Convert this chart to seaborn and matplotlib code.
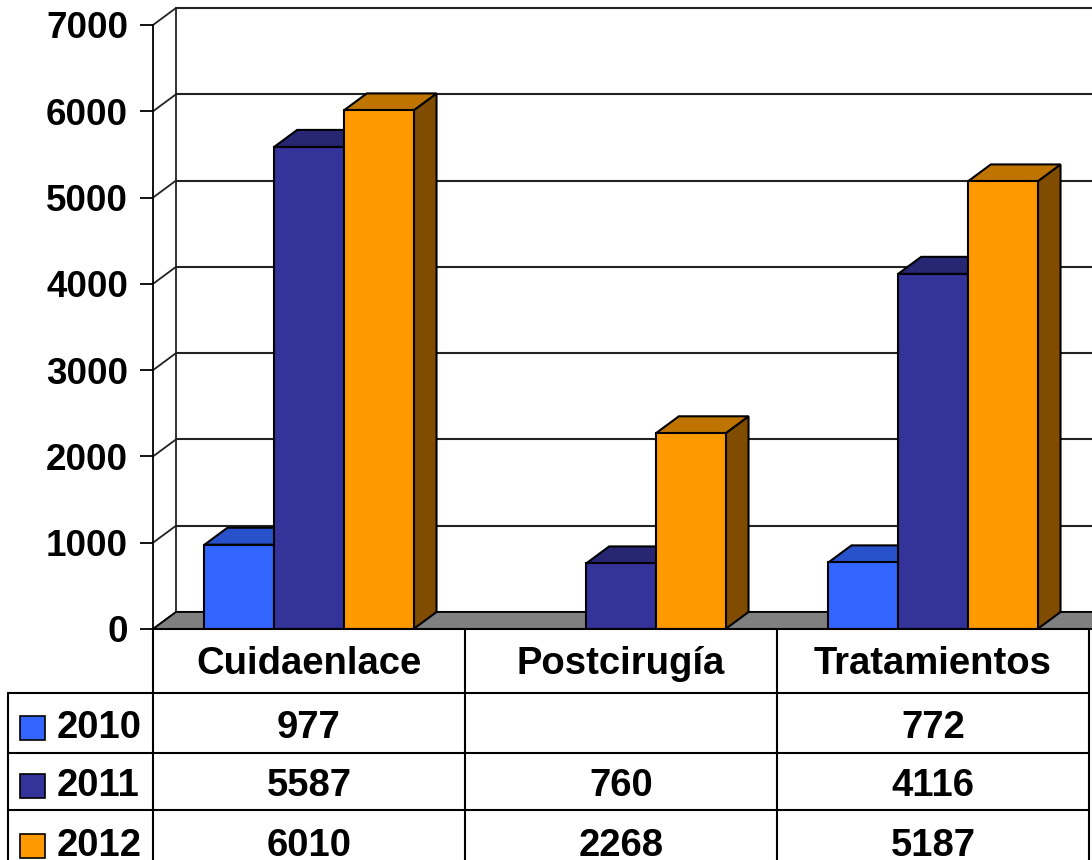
import matplotlib
matplotlib.use("Agg")
import matplotlib.pyplot as plt
import matplotlib.colors as mcolors
from matplotlib.patches import Polygon, Rectangle
import seaborn as sns
import pandas as pd
import numpy as np

# ---------------- data ----------------
categories = ["Cuidaenlace", "Postcirugía", "Tratamientos"]
years = ["2010", "2011", "2012"]
v2010 = [977, np.nan, 772]
v2011 = [5587, 760, 4116]
v2012 = [6010, 2268, 5187]
yticks = [0, 1000, 2000, 3000, 4000, 5000, 6000, 7000]

# ---------------- style ----------------
front_colors = ["#3366FF", "#333399", "#FF9900"]
top_colors = ["#2852CC", "#262673", "#C07400"]
side_colors = ["#1E3D99", "#1C1C55", "#7F4C00"]
FONT = "Liberation Sans"

sns.set_theme(style="white")
plt.rcParams["font.family"] = [FONT, "DejaVu Sans"]
plt.rcParams["font.weight"] = "bold"
plt.rcParams["text.color"] = "black"
plt.rcParams["ytick.color"] = "black"
plt.rcParams["ytick.labelcolor"] = "black"

W, H = 1092, 860
fig = plt.figure(figsize=(W / 100, H / 100), dpi=100)
fig.patch.set_facecolor("white")

# plot area in pixels (front plane)
L, R, B, T = 153, 1089, 629, 25
ax = fig.add_axes([L / W, (H - B) / H, (R - L) / W, (B - T) / H])
ax.set_facecolor("none")

df = pd.DataFrame({
    "Categoria": categories * 3,
    "Año": [y for y in years for _ in categories],
    "Valor": v2010 + v2011 + v2012,
})

sns.barplot(data=df, x="Categoria", y="Valor", hue="Año", hue_order=years,
            order=categories, palette=front_colors, width=0.67, saturation=1,
            edgecolor="black", linewidth=1.5, errorbar=None, legend=False,
            ax=ax)

ax.set_xlim(-0.5, 2.5)
ax.set_ylim(0, 7000)
ax.set_xlabel("")
ax.set_ylabel("")
ax.set_xticks([])
ax.set_yticks(yticks)
ax.set_yticklabels([str(t) for t in yticks], fontsize=26.5, fontweight="bold",
                   family=[FONT, "DejaVu Sans"], color="black")
ax.tick_params(axis="y", left=True, length=9.5, width=1.3, color="black",
               labelcolor="black", pad=8.5)
for s in ax.spines.values():
    s.set_visible(False)

# depth offset (data units)
px_x = 312.0  # px per category
px_y = (B - T) / 7000.0
dx = 23 / px_x
dy = 17 / px_y

# back wall grid lines
for t in yticks:
    ax.plot([-0.5 + dx, 2.6 + dx], [t + dy, t + dy], color="#222222", lw=1.5,
            zorder=0.5, clip_on=False)
    ax.plot([-0.5, -0.5 + dx], [t, t + dy], color="#222222", lw=1.3,
            zorder=0.5, clip_on=False)
ax.plot([-0.5 + dx, -0.5 + dx], [dy, 7000 + dy], color="#222222", lw=1.3,
        zorder=0.5, clip_on=False)
ax.plot([-0.5, -0.5], [0, 7000], color="black", lw=1.3, zorder=0.6, clip_on=False)

# floor
floor = Polygon([(-0.5, 0), (2.6, 0), (2.6 + dx, dy), (-0.5 + dx, dy)],
                closed=True, facecolor="#808080", edgecolor="black", lw=1.3,
                zorder=1, clip_on=False)
ax.add_patch(floor)

# 3-D faces for bars
front_hex = [mcolors.to_hex(c) for c in front_colors]
bars = [p for p in ax.patches if isinstance(p, Rectangle) and p is not floor
        and np.isfinite(p.get_height()) and p.get_height() > 0]
bars.sort(key=lambda p: p.get_x())
for i, p in enumerate(bars):
    x0, w, h = p.get_x(), p.get_width(), p.get_height()
    k = front_hex.index(mcolors.to_hex(p.get_facecolor()))
    z = 2 + i
    p.set_zorder(z + 0.5)
    top = Polygon([(x0, h), (x0 + w, h), (x0 + w + dx, h + dy), (x0 + dx, h + dy)],
                  closed=True, facecolor=top_colors[k], edgecolor="black",
                  lw=1.5, zorder=z, clip_on=False)
    side = Polygon([(x0 + w, 0), (x0 + w + dx, dy), (x0 + w + dx, h + dy), (x0 + w, h)],
                   closed=True, facecolor=side_colors[k], edgecolor="black",
                   lw=1.5, zorder=z, clip_on=False)
    ax.add_patch(side)
    ax.add_patch(top)

# ---------------- data table ----------------
tax = fig.add_axes([L / W, 0, (R - L) / W, (H - B) / H])
tax.set_xlim(-0.5, 2.5)
tax.set_ylim(H - B, 0)
tax.axis("off")


def px2x(px):
    return -0.5 + (px - L) / px_x


rows = [0, 64, 124, 181]
left_x = px2x(8)
lc = "black"
lw = 1.5
tax.plot([-0.5, 2.5], [0, 0], color=lc, lw=lw, clip_on=False)
for r in rows[1:]:
    tax.plot([left_x, 2.5], [r, r], color=lc, lw=lw, clip_on=False)
for xb in [-0.5, 0.5, 1.5, 2.5]:
    tax.plot([xb, xb], [0, H - B + 5], color=lc, lw=lw, clip_on=False)
tax.plot([left_x, left_x], [64, H - B + 5], color=lc, lw=lw, clip_on=False)

tsize = 27.5
for i, c in enumerate(categories):
    tax.text(i, 35, c, ha="center", va="center", fontsize=tsize,
             fontweight="bold", color="black")

row_centers = [99, 157, 217]
series = [v2010, v2011, v2012]
for r, (yr, vals) in enumerate(zip(years, series)):
    yc = row_centers[r]
    sq_x0 = px2x(20)
    sq_w = 25 / px_x
    tax.add_patch(Rectangle((sq_x0, yc - 12), sq_w, 24, facecolor=front_colors[r],
                            edgecolor="black", lw=1.2, clip_on=False))
    tax.text(px2x(57), yc, yr, ha="left", va="center", fontsize=tsize,
             fontweight="bold", color="black", clip_on=False)
    for i, v in enumerate(vals):
        if np.isfinite(v):
            tax.text(i, yc, f"{int(v)}", ha="center", va="center", fontsize=tsize,
                     fontweight="bold", color="black")

fig.savefig("out.png", dpi=100, facecolor="white")
